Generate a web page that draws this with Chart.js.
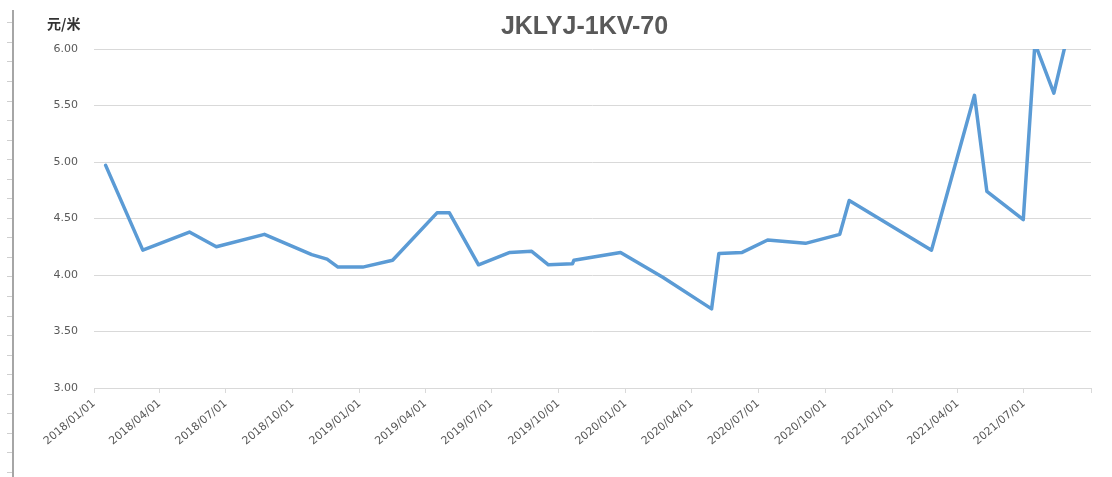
<!DOCTYPE html>
<html>
<head>
<meta charset="utf-8">
<script src="https://cdn.jsdelivr.net/npm/chart.js@4/dist/chart.umd.min.js"></script>
<style>
  html, body { margin: 0; padding: 0; background: #ffffff; }
  #wrap { width: 1112px; height: 477px; }
</style>
</head>
<body>
<div id="wrap"><canvas id="c" width="1112" height="477"></canvas></div>
<script>
// ---- data ----
const chartTitle = 'JKLYJ-1KV-70';
const unitLabel = '元/米';
const dates = [
  '2018-01-17','2018-03-09','2018-05-12','2018-06-18','2018-08-23','2018-10-27',
  '2018-11-17','2018-12-02','2019-01-05','2019-02-15','2019-04-17','2019-05-04',
  '2019-06-13','2019-07-26','2019-08-25','2019-09-17','2019-10-20','2019-10-22',
  '2019-12-25','2020-02-21','2020-04-28','2020-05-08','2020-06-09','2020-07-14',
  '2020-09-04','2020-10-21','2020-11-03','2021-02-24','2021-04-24','2021-05-11',
  '2021-06-30','2021-07-16','2021-08-11','2021-08-29'
];
const prices = [
  4.97, 4.22, 4.38, 4.25, 4.36, 4.18,
  4.14, 4.07, 4.07, 4.13, 4.55, 4.55,
  4.09, 4.20, 4.21, 4.09, 4.10, 4.13,
  4.20, 3.98, 3.70, 4.19, 4.20, 4.31,
  4.28, 4.36, 4.66, 4.22, 5.59, 4.74,
  4.49, 6.05, 5.61, 6.10
];
const tickDates = [
  '2018/01/01','2018/04/01','2018/07/01','2018/10/01',
  '2019/01/01','2019/04/01','2019/07/01','2019/10/01',
  '2020/01/01','2020/04/01','2020/07/01','2020/10/01',
  '2021/01/01','2021/04/01','2021/07/01','2021/10/01'
];
const tickLabels = [
  '2018/01/01','2018/04/01','2018/07/01','2018/10/01',
  '2019/01/01','2019/04/01','2019/07/01','2019/10/01',
  '2020/01/01','2020/04/01','2020/07/01','2020/10/01',
  '2021/01/01','2021/04/01','2021/07/01',''
];
const yMin = 3.0, yMax = 6.0, yStep = 0.5;

// ---- helpers ----
const DAY = 86400000;
function toDay(s) {
  const p = s.split(/[-\/]/).map(Number);
  return Math.round((Date.UTC(p[0], p[1] - 1, p[2]) - Date.UTC(2018, 0, 1)) / DAY);
}
const points = dates.map((d, i) => ({ x: toDay(d), y: prices[i] }));
const tickDays = tickDates.map(toDay);
const labelByDay = {};
tickDays.forEach((d, i) => { labelByDay[d] = tickLabels[i]; });

const textGray = '#595959';
const gridGray = '#d9d9d9';

// decorative ruler on the left edge + title + unit label
const decor = {
  id: 'decor',
  beforeDraw(chart) {
    const ctx = chart.ctx;
    ctx.save();
    ctx.strokeStyle = '#cfcfcf';
    ctx.lineWidth = 1;
    for (let i = 0; i < 24; i++) {
      const y = Math.round(22.3 + i * 19.55) + 0.5;
      ctx.beginPath(); ctx.moveTo(7, y); ctx.lineTo(12, y); ctx.stroke();
    }
    ctx.strokeStyle = '#a6a6a6';
    ctx.lineWidth = 2;
    ctx.beginPath(); ctx.moveTo(13, 10); ctx.lineTo(13, 477); ctx.stroke();
    ctx.restore();
  },
  afterDraw(chart) {
    const ctx = chart.ctx;
    const ca = chart.chartArea;
    ctx.save();
    ctx.fillStyle = textGray;
    ctx.font = 'bold 25px "Liberation Sans", Arial, sans-serif';
    ctx.textAlign = 'center';
    ctx.textBaseline = 'middle';
    ctx.fillText(chartTitle, (ca.left + ca.right) / 2 - 8, 27);
    ctx.fillStyle = '#333333';
    ctx.font = 'bold 14px "Noto Sans CJK SC", sans-serif';
    ctx.textAlign = 'left';
    ctx.fillText(unitLabel, 47, 24);
    ctx.restore();
  }
};

new Chart(document.getElementById('c'), {
  type: 'line',
  data: {
    datasets: [{
      data: points,
      borderColor: '#5B9BD5',
      backgroundColor: '#5B9BD5',
      borderWidth: 3.5,
      pointRadius: 0,
      tension: 0,
      borderJoinStyle: 'round',
      borderCapStyle: 'round',
      fill: false
    }]
  },
  options: {
    responsive: false,
    animation: false,
    events: [],
    layout: { padding: { top: 49, right: 21, left: 0, bottom: 0 } },
    plugins: { legend: { display: false }, title: { display: false }, tooltip: { enabled: false } },
    scales: {
      x: {
        type: 'linear',
        min: tickDays[0],
        max: tickDays[tickDays.length - 1],
        afterBuildTicks(scale) { scale.ticks = tickDays.map(v => ({ value: v })); },
        afterFit(scale) { scale.height = 89; },
        border: { display: true, color: gridGray, width: 1 },
        grid: { drawOnChartArea: false, drawTicks: true, tickLength: 5, color: gridGray },
        ticks: {
          autoSkip: false,
          minRotation: 40,
          maxRotation: 40,
          padding: 4,
          color: textGray,
          font: { family: '"DejaVu Sans", sans-serif', size: 11 },
          callback: (v) => (labelByDay[v] !== undefined ? labelByDay[v] : '')
        }
      },
      y: {
        min: yMin,
        max: yMax,
        afterFit(scale) { scale.width = 94; },
        border: { display: false },
        grid: { color: gridGray, drawTicks: false, lineWidth: 1 },
        ticks: {
          stepSize: yStep,
          padding: 16,
          color: textGray,
          font: { family: '"DejaVu Sans", sans-serif', size: 11 },
          callback: (v) => Number(v).toFixed(2)
        }
      }
    }
  },
  plugins: [decor]
});
</script>
</body>
</html>
